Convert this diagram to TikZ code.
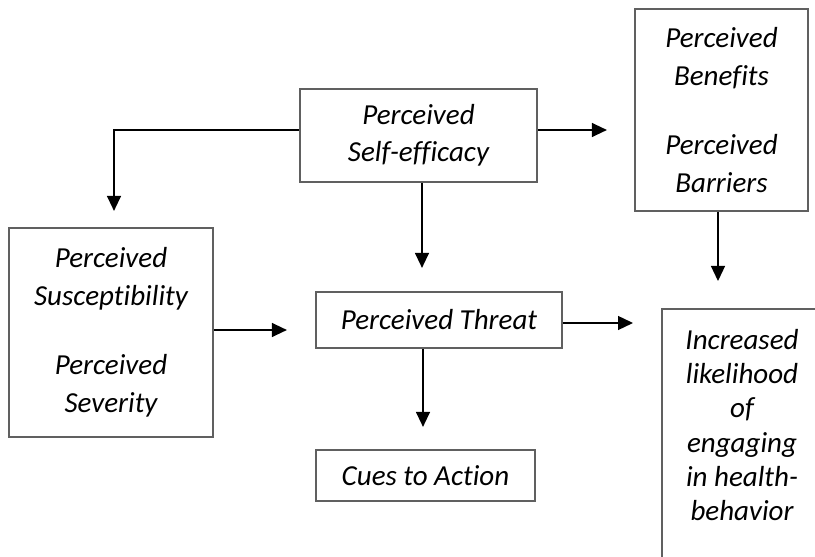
\documentclass[tikz,border=0pt]{standalone}
\usepackage{fontspec}
\setmainfont[Ligatures=CommonOff]{Carlito}
\usetikzlibrary{arrows.meta}
\definecolor{boxgray}{RGB}{96,96,96}
\tikzset{
  hbox/.style={draw=boxgray, line width=2.2pt, rectangle, inner sep=0pt, align=center,
    font=\fontsize{29}{37.5}\selectfont\itshape},
  arr/.style={draw=black, line width=1.3pt, -{Triangle[length=15pt,width=14pt]}}
}
\begin{document}
\begin{tikzpicture}[x=1pt,y=1pt]
\useasboundingbox[fill=white] (0,0) rectangle (815,557);
\node[hbox, minimum width=237pt, minimum height=93pt] (SE) at (418.5,421.5) {Perceived\\Self-efficacy};
\node[hbox, minimum width=173pt, minimum height=202pt] (BB) at (721.5,447) {Perceived\\Benefits\\[32pt]Perceived\\Barriers};
\node[hbox, minimum width=204pt, minimum height=209pt] (SS) at (111,224.5) {Perceived\\Susceptibility\\[32pt]Perceived\\Severity};
\node[hbox, minimum width=246pt, minimum height=56pt] (TH) at (439,237) {Perceived Threat};
\node[hbox, minimum width=219pt, minimum height=51pt] (CA) at (425.5,81.5) {Cues to Action};
\node[hbox, minimum width=174pt, minimum height=274pt, anchor=north west] (OUT) at (661,249) {};
\node[font=\fontsize{29}{34.2}\selectfont\itshape, align=center, inner sep=0pt] (OUTT) at (742,132)
  {Increased\\likelihood\\of\\engaging\\in health-\\behavior};
\draw[arr, shorten >=16pt] ([yshift=5.5pt]SE.west) -| ([xshift=3pt]SS.north);
\draw[arr, shorten >=27pt] ([yshift=5.5pt]SE.east) -- ([yshift=5.5pt]SE.east -| BB.west);
\draw[arr, shorten >=23pt] ([xshift=3.5pt]SE.south) -- ([xshift=3.5pt]SE.south |- TH.north);
\draw[arr, shorten >=27pt] ([xshift=-3.5pt]BB.south) -- ([xshift=-3.5pt]BB.south |- OUT.north);
\draw[arr, shorten >=28pt] ([yshift=2.5pt]SS.east) -- ([yshift=2.5pt]SS.east -| TH.west);
\draw[arr, shorten >=28pt] ([yshift=-3pt]TH.east) -- ([yshift=-3pt]TH.east -| OUT.west);
\draw[arr, shorten >=22pt] ([xshift=-16pt]TH.south) -- ([xshift=-16pt]TH.south |- CA.north);
\end{tikzpicture}
\end{document}
